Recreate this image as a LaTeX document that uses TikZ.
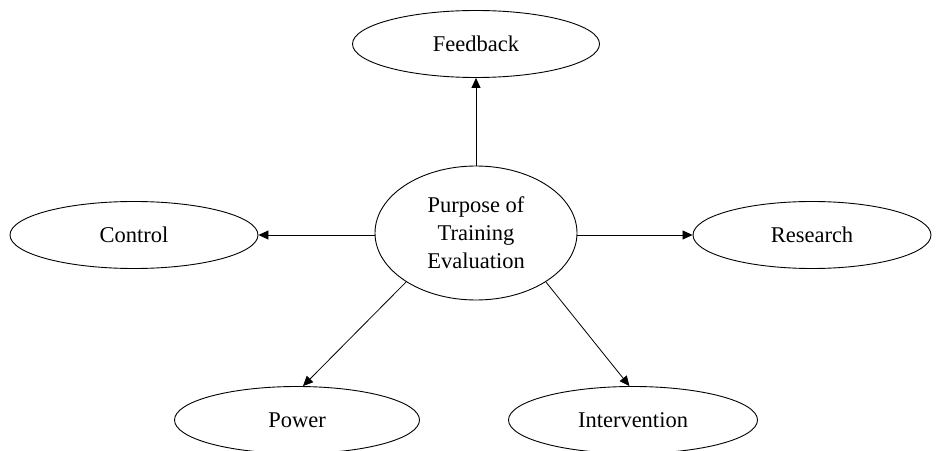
\documentclass[tikz,border=0pt]{standalone}
\usepackage{fontspec}
\setmainfont{Liberation Serif}
\usetikzlibrary{shapes.geometric,arrows.meta}
\begin{document}
\begin{tikzpicture}[x=1pt,y=1pt,
  bub/.style={draw, ellipse, line width=0.9pt, minimum width=#1, minimum height=67pt, inner sep=0pt,
    font=\fontsize{22.5}{28}\selectfont, align=center},
  arr/.style={line width=0.8pt, -{Triangle[length=10pt,width=9pt]}}]
\useasboundingbox (0,0) rectangle (936,450);
\node[bub=202pt, minimum height=134pt] (c) at (476,217) {Purpose of\\Training\\Evaluation};
\node[bub=247pt] (fb) at (476,406) {Feedback};
\node[bub=248pt] (ct) at (134,215) {Control};
\node[bub=238pt] (rs) at (812,215) {Research};
\node[bub=245pt] (pw) at (297,30) {Power};
\node[bub=249pt] (iv) at (633,30) {Intervention};
\draw[arr] (c.north) -- (fb.south);
\draw[arr] (c.west |- ct.east) -- (ct.east);
\draw[arr] (c.east |- rs.west) -- (rs.west);
\draw[arr] (c.215) -- (pw.80);
\draw[arr] (c.325) -- (iv.96);
\end{tikzpicture}
\end{document}
